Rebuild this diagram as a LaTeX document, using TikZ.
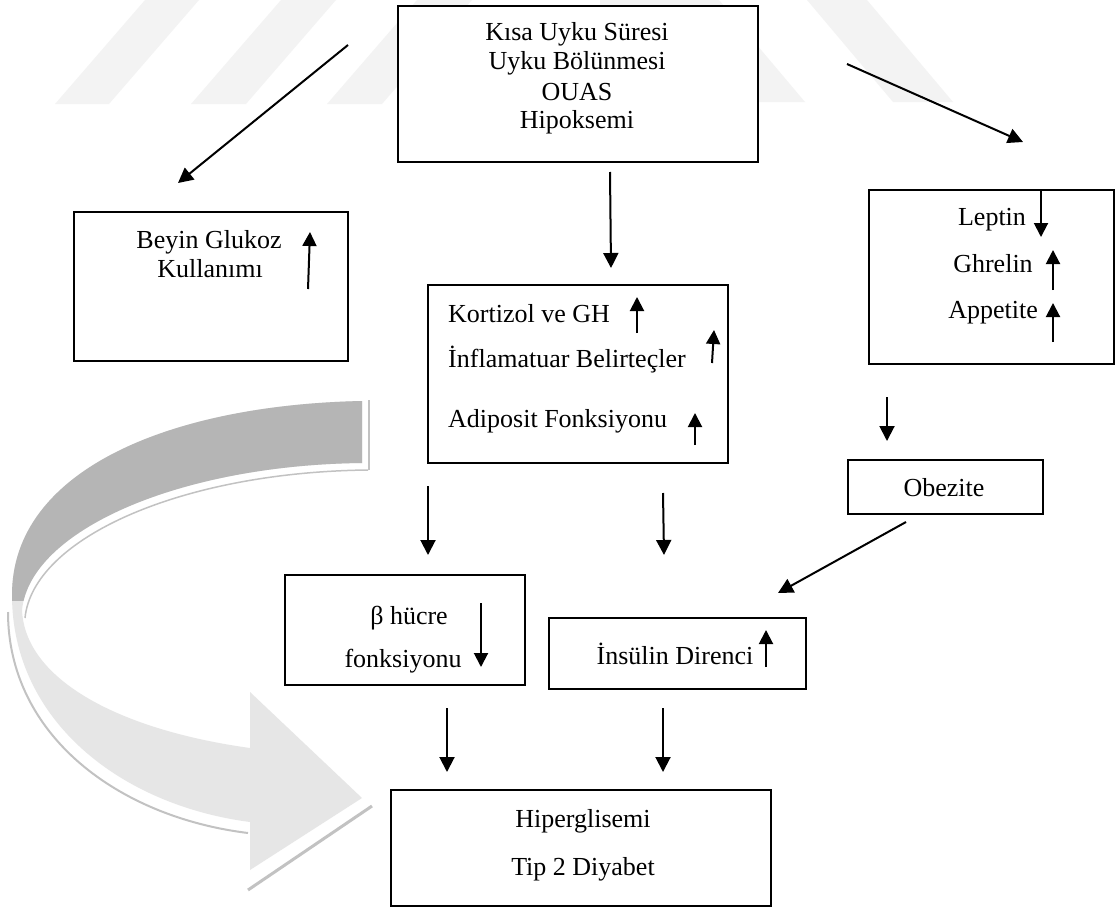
\documentclass[tikz,border=0pt]{standalone}
\usepackage{fontspec}
\setmainfont{Liberation Serif}
\usetikzlibrary{arrows.meta}
\newcommand\fs{\fontsize{26}{30}\selectfont}
\definecolor{wm}{HTML}{F3F3F3}
\definecolor{ribdark}{HTML}{B5B5B5}
\definecolor{riblight}{HTML}{E6E6E6}
\definecolor{ribshadow}{HTML}{C2C2C2}
\tikzset{
  box/.style={draw, line width=2.3pt, fill=white, inner sep=0pt, anchor=north west},
  txt/.style={font=\fs, inner sep=0pt, anchor=base},
  ltxt/.style={font=\fs, inner sep=0pt, anchor=base west},
  arr/.style={line width=2pt, -{Triangle[length=15pt,width=15pt]}},
  sarr/.style={line width=2pt, -{Triangle[length=14pt,width=14pt]}},
}
\begin{document}
\begin{tikzpicture}[x=1pt,y=-1pt]
\useasboundingbox (0,0) rectangle (1115,907);
\fill[white] (0,0) rectangle (1115,907);
% watermark
\fill[wm] (55,104) -- (109,104) -- (199,0) -- (145,0) -- cycle;
\fill[wm] (191,104) -- (246,104) -- (336,0) -- (281,0) -- cycle;
\fill[wm] (327,104) -- (382,104) -- (472,0) -- (417,0) -- cycle;
\fill[wm] (600,0) -- (719,0) -- (805,102) -- (600,102) -- cycle;
\fill[wm] (893,102) -- (953,102) -- (867,0) -- (807,0) -- cycle;
% curved ribbon arrow
\def\ribbon{(362,401) .. controls (170,405) and (12,470) .. (12,595)
  .. controls (12,720) and (120,805) .. (250,822) -- (250,870) -- (362,798)
  -- (250,692) -- (250,748) .. controls (120,730) and (25,680) .. (22,610)
  .. controls (30,530) and (180,465) .. (362,463) -- cycle}
\fill[riblight] \ribbon;
\begin{scope}
  \clip (0,380) -- (400,380) -- (400,600) -- (0,600) -- cycle;
  \fill[ribdark] \ribbon;
\end{scope}
\draw[ribshadow, line width=1.5pt] (25,618) .. controls (33,538) and (182,472) .. (368,470);
\draw[ribshadow, line width=1.5pt] (369,400) -- (369,470);
\draw[ribshadow, line width=2pt] (8,612) .. controls (8,735) and (118,817) .. (248,833);
\draw[ribshadow, line width=3pt] (372,806) -- (248,890);
% boxes
\node[box, minimum width=360pt, minimum height=156pt] (top) at (397,5) {};
\node[box, minimum width=274pt, minimum height=149pt] (brain) at (73,211) {};
\node[box, minimum width=300pt, minimum height=178pt] (mid) at (427,284) {};
\node[box, minimum width=245pt, minimum height=174pt] (lep) at (868,189) {};
\node[box, minimum width=195pt, minimum height=54pt] (obez) at (847,459) {};
\node[box, minimum width=240pt, minimum height=110pt] (beta) at (284,574) {};
\node[box, minimum width=257pt, minimum height=71pt] (ins) at (548,617) {};
\node[box, minimum width=380pt, minimum height=116pt] (hyp) at (390,789) {};
% texts
\node[txt] (t1) at (577,41) {Kısa Uyku Süresi};
\node[txt] (t2) at (577,70) {Uyku Bölünmesi};
\node[txt] (t3) at (577,100) {OUAS};
\node[txt] (t4) at (577,128) {Hipoksemi};
\node[txt] (b1) at (209,248) {Beyin Glukoz};
\node[txt] (b2) at (210,277) {Kullanımı};
\node[ltxt] (m1) at (448,322) {Kortizol ve GH};
\node[ltxt] (m2) at (448,367) {İnflamatuar Belirteçler};
\node[ltxt] (m3) at (448,427) {Adiposit Fonksiyonu};
\node[txt] (l1) at (992,225) {Leptin};
\node[txt] (l2) at (993,272) {Ghrelin};
\node[txt] (l3) at (993,318) {Appetite};
\node[txt] (o1) at (944,496) {Obezite};
\node[txt] (be1) at (409,624) {β hücre};
\node[txt] (be2) at (403,667) {fonksiyonu};
\node[txt] (i1) at (675,664) {İnsülin Direnci};
\node[txt] (h1) at (583,827) {Hiperglisemi};
\node[txt] (h2) at (583,875) {Tip 2 Diyabet};
% connector end points
\coordinate (a1s) at (348,45);   \coordinate (a1e) at (178,183);
\coordinate (a2s) at (847,64);   \coordinate (a2e) at (1023,142);
\coordinate (a3s) at (610,172);  \coordinate (a3e) at (611,268);
\coordinate (a4s) at (887,397);  \coordinate (a4e) at (887,441);
\coordinate (a5s) at (906,522);  \coordinate (a5e) at (778,593);
\coordinate (a6s) at (428,486);  \coordinate (a6e) at (428,555);
\coordinate (a7s) at (663,493);  \coordinate (a7e) at (664,555);
\coordinate (a8s) at (447,708);  \coordinate (a8e) at (447,772);
\coordinate (a9s) at (663,708);  \coordinate (a9e) at (663,772);
\draw[arr] (a1s) -- (a1e);
\draw[arr] (a2s) -- (a2e);
\draw[arr] (a3s) -- (a3e);
\draw[arr] (a4s) -- (a4e);
\draw[arr] (a5s) -- (a5e);
\draw[arr] (a6s) -- (a6e);
\draw[arr] (a7s) -- (a7e);
\draw[arr] (a8s) -- (a8e);
\draw[arr] (a9s) -- (a9e);
% small indicator arrows
\coordinate (u1s) at (308,289); \coordinate (u1e) at (310,232);
\coordinate (u2s) at (637,333); \coordinate (u2e) at (637,297);
\coordinate (u3s) at (712,363); \coordinate (u3e) at (714,330);
\coordinate (u4s) at (695,445); \coordinate (u4e) at (695,413);
\coordinate (u5s) at (1041,189); \coordinate (u5e) at (1041,237);
\coordinate (u6s) at (1053,290); \coordinate (u6e) at (1053,250);
\coordinate (u7s) at (1053,342); \coordinate (u7e) at (1053,303);
\coordinate (u8s) at (481,603); \coordinate (u8e) at (481,667);
\coordinate (u9s) at (766,667); \coordinate (u9e) at (766,630);
\foreach \k in {1,...,9} { \draw[sarr] (u\k s) -- (u\k e); }
\end{tikzpicture}
\end{document}
